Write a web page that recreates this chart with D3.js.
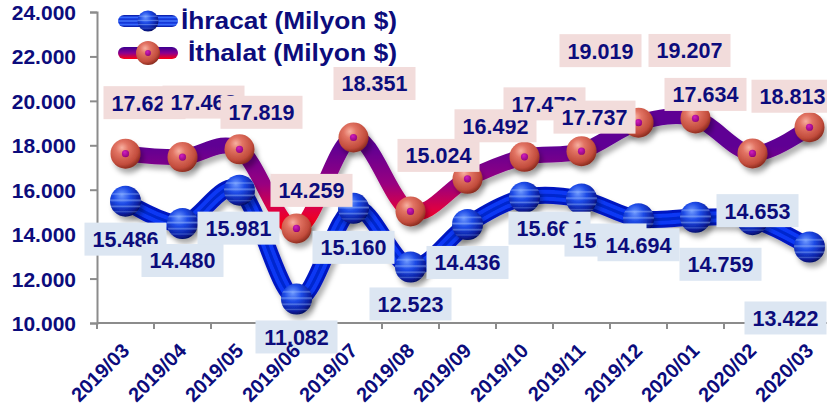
<!DOCTYPE html>
<html>
<head>
<meta charset="utf-8">
<script src="https://cdn.jsdelivr.net/npm/d3@7"></script>
<style>
body { margin: 0; background: #fff; }
text { font-family: Arial, "Liberation Sans", sans-serif; font-weight: bold; fill: #0c0c7c; }
</style>
</head>
<body>
<div id="chart"></div>
<script>
var months = ["2019/03", "2019/04", "2019/05", "2019/06", "2019/07", "2019/08", "2019/09",
    "2019/10", "2019/11", "2019/12", "2020/01", "2020/02", "2020/03"];
var ihracat = [15486, 14480, 15981, 11082, 15160, 12523, 14436, 15664, 15580, 14694, 14759, 14653, 13422];
var ithalat = [17623, 17468, 17819, 14259, 18351, 15024, 16492, 17479, 17737, 19019, 19207, 17634, 18813];
var yTicks = [10000, 12000, 14000, 16000, 18000, 20000, 22000, 24000];
var seriesNames = ["İhracat (Milyon $)", "İthalat (Milyon $)"];

// where each data label sits relative to its point (px)
var ihrLabelPos = [[0, 38], [0, 37], [-1, 38], [0, 38], [0, 39], [0, 37], [0, 38], [25, 31], [24, 41], [0, 26], [25, 47], [5, -9], [-24, 71]];
var ithLabelPos = [[19, -51], [21, -55], [22, -37], [15, -38], [21, -54], [28, -56], [28, -53], [20, -53], [13, -34], [-38, -72], [-6, -68], [-47, -59], [-17, -31]];

var W = 827, H = 412;
var svg = d3.select("#chart").append("svg").attr("width", W).attr("height", H);
var defs = svg.append("defs");

var locale = d3.formatLocale({ decimal: ",", thousands: ".", grouping: [3], currency: ["", ""] });
var fmt = locale.format(",d");

var x = d3.scaleBand().domain(months).range([97, 97 + 57 * 13]);
var y = d3.scaleLinear().domain([10000, 24000]).range([323, 12]);
function cx(m) { return x(m) + x.bandwidth() / 2; }

// gradients
function radial(id, stops) {
    var g = defs.append("radialGradient").attr("id", id)
        .attr("cx", "40%").attr("cy", "35%").attr("r", "70%").attr("fx", "38%").attr("fy", "30%");
    stops.forEach(function (s) { g.append("stop").attr("offset", s[0]).attr("stop-color", s[1]); });
}
radial("gBlue", [[0, "#6f9aff"], [0.4, "#1d4ae6"], [0.8, "#0a1ea0"], [1, "#040a55"]]);
radial("gRed", [[0, "#f7b0a0"], [0.3, "#e27464"], [0.75, "#c24c3c"], [1, "#7e2418"]]);
radial("gDot", [[0, "#d020c0"], [1, "#90007a"]]);

var stripe = defs.append("linearGradient").attr("id", "gStripe").attr("x1", 0).attr("y1", 0).attr("x2", 0).attr("y2", 1);
[[0, 0], [0.22, 0], [0.27, 0.45], [0.32, 0], [0.42, 0], [0.47, 0.5], [0.53, 0], [0.62, 0], [0.67, 0.45], [0.72, 0], [0.8, 0], [0.84, 0.3], [0.88, 0], [1, 0]]
    .forEach(function (s) { stripe.append("stop").attr("offset", s[0]).attr("stop-color", "#9fc0ff").attr("stop-opacity", s[1]); });

var redLine = defs.append("linearGradient").attr("id", "gRedLine").attr("gradientUnits", "userSpaceOnUse")
    .attr("x1", 0).attr("y1", 145).attr("x2", 0).attr("y2", 232);
[[0, "#5e0094"], [0.45, "#990080"], [0.75, "#e00040"], [1, "#ff0000"]]
    .forEach(function (s) { redLine.append("stop").attr("offset", s[0]).attr("stop-color", s[1]); });

var legRed = defs.append("linearGradient").attr("id", "gLegRed").attr("x1", 0).attr("y1", 0).attr("x2", 0).attr("y2", 1);
[[0, "#3a0090"], [0.5, "#8a0090"], [1, "#ff0010"]]
    .forEach(function (s) { legRed.append("stop").attr("offset", s[0]).attr("stop-color", s[1]); });
var legBlue = defs.append("linearGradient").attr("id", "gLegBlue").attr("x1", 0).attr("y1", 0).attr("x2", 0).attr("y2", 1);
[[0, "#0010a0"], [0.2, "#3a6cff"], [0.35, "#0a2ad0"], [0.5, "#4a7cff"], [0.65, "#0a2ad0"], [0.8, "#3a6cff"], [1, "#0010a0"]]
    .forEach(function (s) { legBlue.append("stop").attr("offset", s[0]).attr("stop-color", s[1]); });

var sh = defs.append("filter").attr("id", "shadow").attr("x", "-20%").attr("y", "-20%").attr("width", "150%").attr("height", "160%");
sh.append("feDropShadow").attr("dx", 3).attr("dy", 5).attr("stdDeviation", 2.5)
    .attr("flood-color", "#000").attr("flood-opacity", 0.3);

// axes
var axisColor = "#8c8c8c";
var yAxis = svg.append("g").attr("transform", "translate(97,0)")
    .call(d3.axisLeft(y).tickValues(yTicks).tickFormat(fmt).tickSize(7).tickPadding(14));
yAxis.select(".domain").attr("stroke", axisColor).attr("stroke-width", 2);
yAxis.selectAll(".tick line").attr("stroke", axisColor).attr("stroke-width", 2);
yAxis.selectAll(".tick text").attr("font-size", 21).attr("dy", "0.36em")
    .attr("font-family", "Arial, 'Liberation Sans', sans-serif").attr("fill", "#0c0c7c");

var xAxis = svg.append("g");
xAxis.append("line").attr("x1", 97).attr("x2", x.range()[1]).attr("y1", y(10000)).attr("y2", y(10000))
    .attr("stroke", axisColor).attr("stroke-width", 2);
xAxis.selectAll(".xt").data(months.concat(["end"])).enter().append("line")
    .attr("x1", function (d) { return d === "end" ? x.range()[1] : x(d); })
    .attr("x2", function (d) { return d === "end" ? x.range()[1] : x(d); })
    .attr("y1", y(10000)).attr("y2", y(10000) + 6)
    .attr("stroke", axisColor).attr("stroke-width", 2);

// lines
var line = d3.line().x(function (d, i) { return cx(months[i]); }).y(function (d) { return y(d); })
    .curve(d3.curveCardinal.tension(0));

var gIhr = svg.append("g").attr("filter", "url(#shadow)");
gIhr.append("path").attr("d", line(ihracat)).attr("fill", "none").attr("stroke", "#0018c0").attr("stroke-width", 17).attr("stroke-linecap", "round");
gIhr.append("path").attr("d", line(ihracat)).attr("fill", "none").attr("stroke", "#0838f4").attr("stroke-width", 11);
gIhr.append("path").attr("d", line(ihracat)).attr("fill", "none").attr("stroke", "#0016a8").attr("stroke-width", 3).attr("opacity", 0.5);

var gIth = svg.append("g").attr("filter", "url(#shadow)");
gIth.append("path").attr("d", line(ithalat)).attr("fill", "none").attr("stroke", "url(#gRedLine)").attr("stroke-width", 16).attr("stroke-linecap", "round");

// markers
function blueBall(g, px, py, r) {
    g.append("circle").attr("cx", px).attr("cy", py).attr("r", r).attr("fill", "url(#gBlue)");
    g.append("circle").attr("cx", px).attr("cy", py).attr("r", r).attr("fill", "url(#gStripe)");
}
function redBall(g, px, py, r) {
    g.append("circle").attr("cx", px).attr("cy", py).attr("r", r).attr("fill", "url(#gRed)");
    g.append("circle").attr("cx", px).attr("cy", py).attr("r", r * 0.24).attr("fill", "url(#gDot)");
}
var mIhr = svg.append("g").attr("filter", "url(#shadow)");
ihracat.forEach(function (v, i) { blueBall(mIhr, cx(months[i]), y(v), 15.5); });
var mIth = svg.append("g").attr("filter", "url(#shadow)");
ithalat.forEach(function (v, i) { redBall(mIth, cx(months[i]), y(v), 15); });

// data labels
var labels = [];
ihracat.forEach(function (v, i) { labels.push({ v: v, i: i, pos: ihrLabelPos[i], fill: "#dce6f2", y0: y(v) }); });
ithalat.forEach(function (v, i) { labels.push({ v: v, i: i, pos: ithLabelPos[i], fill: "#f2dcdb", y0: y(v) }); });
var gl = svg.append("g");
labels.forEach(function (d) {
    var lx = cx(months[d.i]) + d.pos[0], ly = d.y0 + d.pos[1];
    gl.append("rect").attr("x", lx - 41).attr("y", ly - 16.5).attr("width", 82).attr("height", 33).attr("fill", d.fill);
    gl.append("text").attr("x", lx).attr("y", ly + 8).attr("text-anchor", "middle").attr("font-size", 21.5).text(fmt(d.v));
});

// x tick labels
svg.append("g").selectAll("text").data(months).enter().append("text")
    .attr("transform", function (d) { return "translate(" + (cx(d) + 5) + ",352) rotate(-45)"; })
    .attr("text-anchor", "end").attr("font-size", 20).text(function (d) { return d; });

// legend
var leg = svg.append("g");
leg.append("rect").attr("x", 118).attr("y", 15).attr("width", 60).attr("height", 12).attr("rx", 6).attr("fill", "url(#gLegBlue)");
blueBall(leg, 148, 21, 10.5);
leg.append("rect").attr("x", 118).attr("y", 47).attr("width", 60).attr("height", 12).attr("rx", 6).attr("fill", "url(#gLegRed)");
redBall(leg, 148, 53, 12);
leg.selectAll(".lt").data(seriesNames).enter().append("text")
    .attr("x", 397).attr("y", function (d, i) { return 29 + i * 32; })
    .attr("text-anchor", "end").attr("font-size", 24)
    .attr("textLength", function (d, i) { return i === 0 ? 216 : 209; })
    .attr("lengthAdjust", "spacingAndGlyphs")
    .text(function (d) { return d; });
</script>
</body>
</html>
